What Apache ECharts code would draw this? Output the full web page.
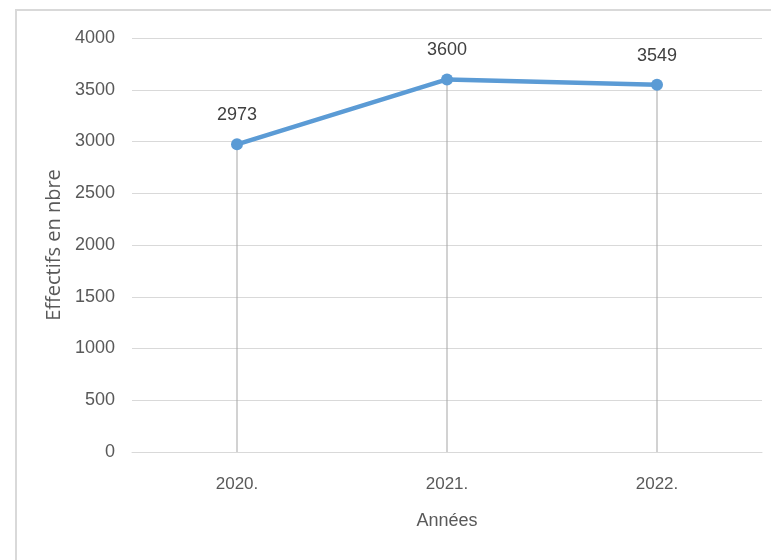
<!DOCTYPE html>
<html>
<head>
<meta charset="utf-8">
<script src="https://cdn.jsdelivr.net/npm/echarts@6/dist/echarts.min.js"></script>
<style>html,body{margin:0;padding:0;background:#fff}#c{width:771px;height:560px}</style>
</head>
<body>
<div id="c"></div>
<script>
const categories = ['2020.', '2021.', '2022.'];
const effectifs = [2973, 3600, 3549];
const yMin = 0, yMax = 4000, yStep = 500;

const chart = echarts.init(document.getElementById('c'), null, {renderer: 'canvas'});
chart.setOption({
  animation: false,
  backgroundColor: '#fff',
  textStyle: {fontFamily: 'Liberation Sans'},
  graphic: [{
    type: 'rect', silent: true, z: -10,
    shape: {x: 16, y: 10, width: 800, height: 600},
    style: {fill: 'none', stroke: '#d9d9d9', lineWidth: 2}
  }],
  grid: {left: 132, right: 9, top: 38, bottom: 108, containLabel: false},
  xAxis: {
    type: 'category',
    data: categories,
    boundaryGap: true,
    name: 'Années',
    nameLocation: 'middle',
    nameGap: 60,
    nameTextStyle: {color: '#595959', fontSize: 18, fontFamily: 'Liberation Sans'},
    axisLine: {show: true, lineStyle: {color: '#d9d9d9', width: 1}},
    axisTick: {show: false},
    axisLabel: {color: '#595959', fontSize: 17, margin: 24},
    splitLine: {show: false}
  },
  yAxis: {
    type: 'value',
    min: yMin, max: yMax, interval: yStep,
    name: 'Effectifs en nbre',
    nameLocation: 'middle',
    nameGap: 58,
    nameRotate: 90,
    nameTextStyle: {color: '#595959', fontSize: 20, fontFamily: 'Open Sans'},
    axisLine: {show: false},
    axisTick: {show: false},
    axisLabel: {color: '#595959', fontSize: 18, margin: 17, formatter: v => String(v)},
    splitLine: {show: true, lineStyle: {color: '#d9d9d9', width: 1}}
  },
  series: [
    {
      type: 'bar',
      data: effectifs,
      barWidth: 1,
      itemStyle: {color: '#a6a6a6'},
      silent: true,
      z: 1
    },
    {
      type: 'line',
      data: effectifs,
      symbol: 'circle',
      symbolSize: 12,
      lineStyle: {color: '#5b9bd5', width: 4.5},
      itemStyle: {color: '#5b9bd5'},
      label: {show: true, position: 'top', distance: 14, color: '#404040', fontSize: 18},
      z: 3
    }
  ]
});
</script>
</body>
</html>
